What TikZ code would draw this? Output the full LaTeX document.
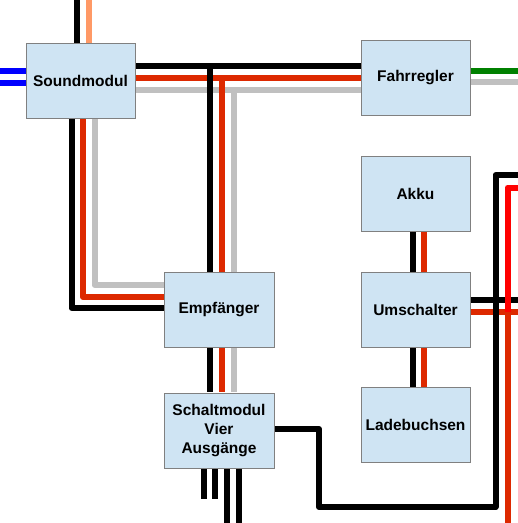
\documentclass[tikz,border=0pt]{standalone}
\usepackage{fontspec}
\setmainfont{Liberation Sans}
\definecolor{boxfill}{HTML}{CFE4F3}
\definecolor{boxline}{HTML}{808080}
\definecolor{wblack}{HTML}{000000}
\definecolor{wred}{HTML}{DD2900}
\definecolor{wbright}{HTML}{FF0000}
\definecolor{wgray}{HTML}{C0C0C0}
\definecolor{wsalmon}{HTML}{FF9966}
\definecolor{wblue}{HTML}{0000FF}
\definecolor{wgreen}{HTML}{008000}
\tikzset{
  modul/.style={draw=boxline,fill=boxfill,line width=1pt,minimum width=109pt,minimum height=75pt,inner sep=0pt,align=center,font=\fontsize{15.5}{19}\selectfont\bfseries,anchor=north west},
  wire/.style={line width=6pt,line join=round},
  wk/.style={wire,draw=wblack},
  wr/.style={wire,draw=wred},
  wb/.style={wire,draw=wbright},
  wg/.style={wire,draw=wgray},
  ws/.style={wire,draw=wsalmon},
  wn/.style={wire,draw=wgreen},
  wu/.style={wire,draw=wblue}
}
\begin{document}
\begin{tikzpicture}[x=1pt,y=-1pt]
\useasboundingbox (0,0) rectangle (518,523);
\fill[white] (0,0) rectangle (518,523);
% free ends
\coordinate (t1) at (77,0); \coordinate (t2) at (89,0);
\coordinate (bl1) at (0,71); \coordinate (bl2) at (0,83);
\coordinate (fg) at (518,70.5); \coordinate (fh) at (518,82);
\coordinate (s1) at (204,499); \coordinate (s2) at (215,499);
\coordinate (s3) at (227,523); \coordinate (s4) at (238.5,523);
\coordinate (rk) at (518,175); \coordinate (rr) at (518,187.5);
\coordinate (uk) at (518,299.5); \coordinate (ur) at (518,311.5);
\coordinate (rb) at (507.5,523);
% wires, drawn first; boxes cover their ends
\draw[wk] (t1) -- (77,50);
\draw[ws] (t2) -- (89,50);
\draw[wu] (bl1) -- (30,71);
\draw[wu] (bl2) -- (30,83);
\draw[wg] (130,89.5) -- (365,89.5);
\draw[wr] (130,77.5) -- (365,77.5);
\draw[wk] (130,65.5) -- (365,65.5);
\draw[wg] (233.5,89.5) -- (233.5,392);
\draw[wr] (221.5,77.5) -- (221.5,392);
\draw[wk] (209.5,65.5) -- (209.5,392);
\draw[wn] (465,70.5) -- (fg);
\draw[wg] (465,82) -- (fh);
\draw[wg] (94.5,110) -- (94.5,285) -- (170,285);
\draw[wr] (83,110) -- (83,297) -- (170,297);
\draw[wk] (71.5,110) -- (71.5,308) -- (170,308);
\draw[wk] (204,460) -- (s1);
\draw[wk] (215,460) -- (s2);
\draw[wk] (227,460) -- (s3);
\draw[wk] (238.5,460) -- (s4);
\draw[wk] (412.5,225) -- (412.5,392);
\draw[wr] (423.5,225) -- (423.5,392);
\draw[wr] (465,311.5) -- (ur);
\draw[wr] (507.5,311.5) -- (rb);
\draw[wk] (465,299.5) -- (uk);
\draw[wb] (rr) -- (507.5,187.5) -- (507.5,311.5);
\draw[wk] (268,429) -- (319,429) -- (319,507) -- (495.5,507) -- (495.5,175) -- (rk);
% modules
\node[modul] (snd) at (25.5,42.5) {Soundmodul};
\node[modul,minimum height=75.5pt] (fr) at (360.5,39.5) {Fahrregler};
\node[modul] (akku) at (360.5,155.5) {Akku};
\node[modul] (um) at (360.5,271.5) {Umschalter};
\node[modul] (lade) at (360.5,386.5) {Ladebuchsen};
\node[modul,minimum width=110pt] (emp) at (163.5,271.5) {Empfänger};
\node[modul,minimum width=110pt] (sch) at (163.5,392.5) {Schaltmodul\\Vier\\Ausgänge};
\end{tikzpicture}
\end{document}
